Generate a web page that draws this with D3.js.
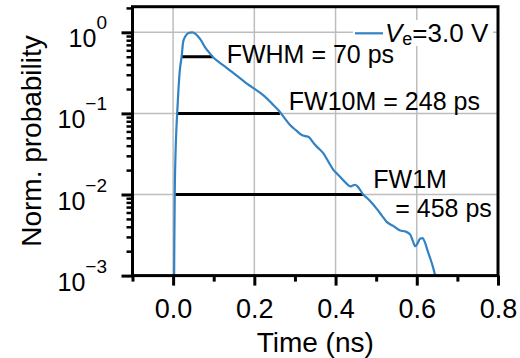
<!DOCTYPE html>
<html>
<head>
<meta charset="utf-8">
<script src="https://cdn.jsdelivr.net/npm/d3@7"></script>
<style>
  body { margin: 0; background: #fff; }
  svg { font-family: "Liberation Sans", Arial, sans-serif; }
</style>
</head>
<body>
<script>
    var w = 520; //width of the SVG canvas
    var h = 358; //height of the SVG canvas
    var plotLeft = 132.5, plotRight = 498, plotTop = 6.7, plotBottom = 275.6; //plot box

    //time (ns) and normalized probability of the Ve = 3.0 V trace
    var time = [0.0025, 0.003, 0.004, 0.006, 0.008, 0.010, 0.013, 0.0165, 0.021, 0.0247,
                0.030, 0.038, 0.047, 0.055, 0.062, 0.070, 0.078, 0.088, 0.099, 0.113,
                0.128, 0.144, 0.160, 0.176, 0.193, 0.210, 0.226, 0.243, 0.259, 0.275,
                0.288, 0.303, 0.317, 0.326, 0.334, 0.342, 0.350, 0.360, 0.370, 0.383,
                0.395, 0.405, 0.415, 0.426, 0.436, 0.442, 0.448, 0.454, 0.460, 0.468,
                0.477, 0.490, 0.502, 0.514, 0.526, 0.542, 0.559, 0.572, 0.584, 0.590,
                0.596, 0.602, 0.608, 0.614, 0.621, 0.627, 0.633, 0.639, 0.645];
    var prob = [0.001, 0.0025, 0.01, 0.032, 0.063, 0.1, 0.19, 0.34, 0.50, 0.76,
                0.89, 0.98, 1.0, 0.955, 0.88, 0.78, 0.66, 0.57, 0.49, 0.43,
                0.377, 0.327, 0.284, 0.245, 0.213, 0.186, 0.161, 0.133, 0.110, 0.087,
                0.072, 0.0617, 0.0542, 0.0525, 0.0513, 0.0457, 0.0407, 0.0363, 0.0322, 0.0251,
                0.020, 0.0178, 0.0158, 0.0138, 0.0126, 0.0129, 0.0132, 0.0126, 0.0115, 0.010,
                0.0091, 0.0078, 0.0066, 0.0055, 0.0046, 0.0041, 0.0036, 0.0035, 0.0032, 0.0027,
                0.0023, 0.0025, 0.00285, 0.0029, 0.0025, 0.0020, 0.00164, 0.00132, 0.00102];

    //full-width levels and their start / end times
    var fwLevel = [0.5, 0.1, 0.01];
    var fwStart = [0.0215, 0.0095, 0.004];
    var fwEnd = [0.098, 0.263, 0.468];
    var fwText = ["FWHM = 70 ps", "FW10M = 248 ps", "FW1M", "= 458 ps"];
    var fwTextPos = [[0.132, 0.42], [0.285, 0.110], [0.493, 0.0119], [0.547, 0.00524]]; //[time, prob] of text start

    var xMajor = [0.0, 0.2, 0.4, 0.6, 0.8];
    var xMinor = [-0.1, 0.1, 0.3, 0.5, 0.7];
    var yMajor = [1e-3, 1e-2, 1e-1, 1e0];
    var yExp = ["\u22123", "\u22122", "\u22121", "0"];

    var yMinor = [];
    [1e-3, 1e-2, 1e-1, 1e0].forEach(function(d) {
        for (var k = 2; k <= 9; k++) if (d * k < 2.07) yMinor.push(d * k);
    });

    var x = d3.scaleLinear().domain([-0.1, 0.8]).range([plotLeft, plotRight]);
    var y = d3.scaleLog().domain([1e-3, 2.07]).range([plotBottom, plotTop]);

    var svg = d3.select("body").append("svg")
        .attr("width", w)
        .attr("height", h);

    //grid lines
    svg.append("g").selectAll("line")
        .data(xMajor.slice(0, 4))
        .enter().append("line")
        .attr("x1", function(d) { return x(d); })
        .attr("x2", function(d) { return x(d); })
        .attr("y1", plotTop).attr("y2", plotBottom)
        .attr("stroke", "#bdbdbd").attr("stroke-width", 1.5);
    svg.append("g").selectAll("line")
        .data(yMajor.slice(1))
        .enter().append("line")
        .attr("y1", function(d) { return y(d); })
        .attr("y2", function(d) { return y(d); })
        .attr("x1", plotLeft).attr("x2", plotRight)
        .attr("stroke", "#bdbdbd").attr("stroke-width", 1.5);

    //legend background
    svg.append("rect")
        .attr("x", 353).attr("y", 20)
        .attr("width", 140).attr("height", 26)
        .attr("fill", "#fff");

    svg.append("clipPath").attr("id", "clip")
        .append("rect").attr("x", plotLeft).attr("y", plotTop)
        .attr("width", plotRight - plotLeft).attr("height", plotBottom - plotTop);

    //full-width bars
    svg.append("g").selectAll("line")
        .data(fwLevel)
        .enter().append("line")
        .attr("x1", function(d, i) { return x(fwStart[i]); })
        .attr("x2", function(d, i) { return x(fwEnd[i]); })
        .attr("y1", function(d) { return y(d); })
        .attr("y2", function(d) { return y(d); })
        .attr("stroke", "#000").attr("stroke-width", 3);

    //the curve
    var line = d3.line()
        .x(function(d, i) { return x(time[i]); })
        .y(function(d) { return y(d); })
        .curve(d3.curveMonotoneX);
    svg.append("path")
        .datum(prob)
        .attr("clip-path", "url(#clip)")
        .attr("d", line)
        .attr("fill", "none")
        .attr("stroke", "#3182c4")
        .attr("stroke-width", 2.2);

    //annotations
    svg.append("g").selectAll("text")
        .data(fwText)
        .enter().append("text")
        .attr("x", function(d, i) { return x(fwTextPos[i][0]); })
        .attr("y", function(d, i) { return y(fwTextPos[i][1]); })
        .attr("font-size", 25)
        .text(function(d) { return d; });

    //legend
    svg.append("line")
        .attr("x1", 355).attr("x2", 383)
        .attr("y1", 33.3).attr("y2", 33.3)
        .attr("stroke", "#3182c4").attr("stroke-width", 2.2);
    var lg = svg.append("text").attr("x", 385).attr("y", 41.7).attr("font-size", 26);
    lg.append("tspan").attr("font-style", "italic").text("V");
    lg.append("tspan").attr("font-size", 18).attr("dy", 3.5).text("e");
    lg.append("tspan").attr("dy", -3.5).text("=3.0 V");

    //x axis ticks
    svg.append("g")
        .attr("transform", "translate(0," + plotBottom + ")")
        .call(d3.axisBottom(x).tickValues(xMajor).tickSize(10).tickSizeOuter(0).tickFormat(d3.format(".1f")))
        .call(function(g) {
            g.select(".domain").remove();
            g.selectAll("line").attr("stroke-width", 3);
            g.selectAll("text").attr("font-size", 27).attr("dy", null).attr("y", 42.7).attr("fill", "#000");
        })
        .attr("font-family", null);
    svg.append("g")
        .attr("transform", "translate(0," + plotBottom + ")")
        .call(d3.axisBottom(x).tickValues(xMinor).tickSize(6).tickSizeOuter(0).tickFormat(""))
        .call(function(g) {
            g.select(".domain").remove();
            g.selectAll("line").attr("stroke-width", 3);
        });

    //y axis ticks
    svg.append("g")
        .attr("transform", "translate(" + plotLeft + ",0)")
        .call(d3.axisLeft(y).tickValues(yMajor).tickSize(11).tickSizeOuter(0).tickFormat(""))
        .call(function(g) {
            g.select(".domain").remove();
            g.selectAll("line").attr("stroke-width", 3);
        });
    svg.append("g")
        .attr("transform", "translate(" + plotLeft + ",0)")
        .call(d3.axisLeft(y).tickValues(yMinor).tickSize(6).tickSizeOuter(0).tickFormat(""))
        .call(function(g) {
            g.select(".domain").remove();
            g.selectAll("line").attr("stroke-width", 2.5);
        });

    //y tick labels 10^n
    var yl = svg.append("g").selectAll("text")
        .data(yMajor)
        .enter().append("text")
        .attr("x", 107)
        .attr("y", function(d) { return y(d) + 15; })
        .attr("text-anchor", "end")
        .attr("font-size", 25);
    yl.append("tspan").text("10");
    yl.append("tspan").attr("font-size", 19).attr("dy", -18)
        .text(function(d, i) { return yExp[i]; });

    //plot frame
    svg.append("rect")
        .attr("x", plotLeft).attr("y", plotTop)
        .attr("width", plotRight - plotLeft).attr("height", plotBottom - plotTop)
        .attr("fill", "none").attr("stroke", "#000").attr("stroke-width", 3);

    //axis labels
    svg.append("text")
        .attr("text-anchor", "middle")
        .attr("x", (plotLeft + plotRight) / 2)
        .attr("y", 351.7)
        .attr("font-size", 28)
        .text("Time (ns)");
    svg.append("text")
        .attr("text-anchor", "middle")
        .attr("transform", "translate(41,141) rotate(-90)")
        .attr("font-size", 28)
        .text("Norm. probability");
</script>
</body>
</html>
